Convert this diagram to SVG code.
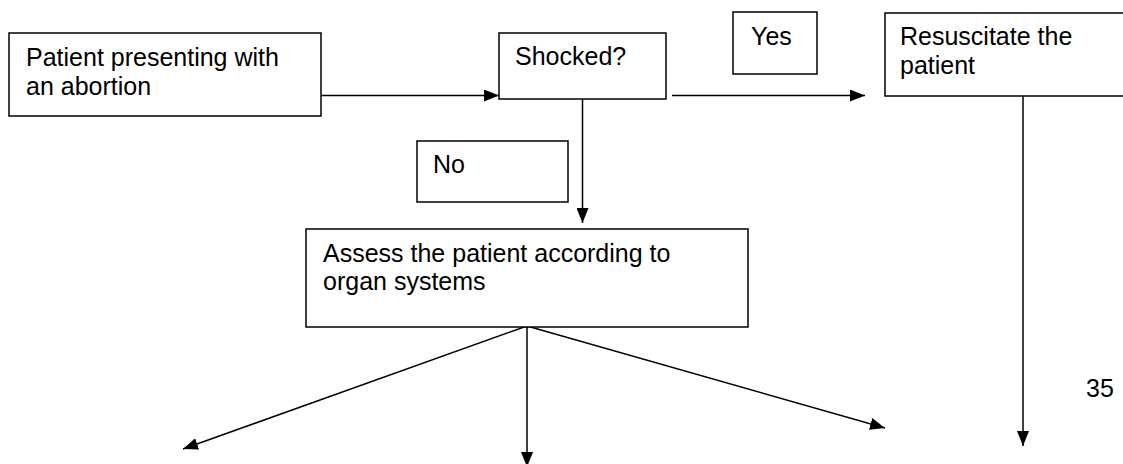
<svg xmlns="http://www.w3.org/2000/svg" width="1123" height="464" viewBox="0 0 1123 464">
<style>
.box{fill:#fff;stroke:#000;stroke-width:1.5}
.t{font-family:"Liberation Sans",Arial,sans-serif;font-size:25px;fill:#000}
.c{fill:none;stroke:#000;stroke-width:1.5}
</style>
<defs>
<marker id="ah" markerUnits="userSpaceOnUse" markerWidth="15" markerHeight="12" refX="15" refY="6" orient="auto">
<path d="M0,0 L15,6 L0,12 z" fill="#000"/>
</marker>
</defs>
<rect width="1123" height="464" fill="#fff"/>
<g id="connectors">
<line class="c" x1="321" y1="95.5" x2="499" y2="95.5" marker-end="url(#ah)"/>
<line class="c" x1="672" y1="95.5" x2="865" y2="95.5" marker-end="url(#ah)"/>
<line class="c" x1="582.5" y1="99" x2="582.5" y2="223" marker-end="url(#ah)"/>
<line class="c" x1="1023" y1="96" x2="1023" y2="446" marker-end="url(#ah)"/>
<line class="c" x1="527" y1="326" x2="183" y2="449" marker-end="url(#ah)"/>
<line class="c" x1="527" y1="326" x2="527" y2="467" marker-end="url(#ah)"/>
<line class="c" x1="527" y1="326" x2="885" y2="428" marker-end="url(#ah)"/>
</g>
<g id="n-patient">
<rect class="box" x="9" y="33" width="312" height="83"/>
<text class="t" x="26" y="66">Patient presenting with</text>
<text class="t" x="26" y="94.5">an abortion</text>
</g>
<g id="n-shocked">
<rect class="box" x="499" y="33" width="167" height="66"/>
<text class="t" x="515" y="65">Shocked?</text>
</g>
<g id="n-yes">
<rect class="box" x="733" y="12" width="84" height="62"/>
<text class="t" x="751" y="45">Yes</text>
</g>
<g id="n-resuscitate">
<rect class="box" x="885" y="13" width="245" height="83"/>
<text class="t" x="900" y="45">Resuscitate the</text>
<text class="t" x="900" y="74">patient</text>
</g>
<g id="n-no">
<rect class="box" x="417" y="141" width="151" height="61"/>
<text class="t" x="433" y="173">No</text>
</g>
<g id="n-assess">
<rect class="box" x="306" y="229" width="442" height="98"/>
<text class="t" x="323" y="261.5">Assess the patient according to</text>
<text class="t" x="323" y="290">organ systems</text>
</g>
<g id="page-number">
<text class="t" x="1086" y="397">35</text>
</g>
</svg>
